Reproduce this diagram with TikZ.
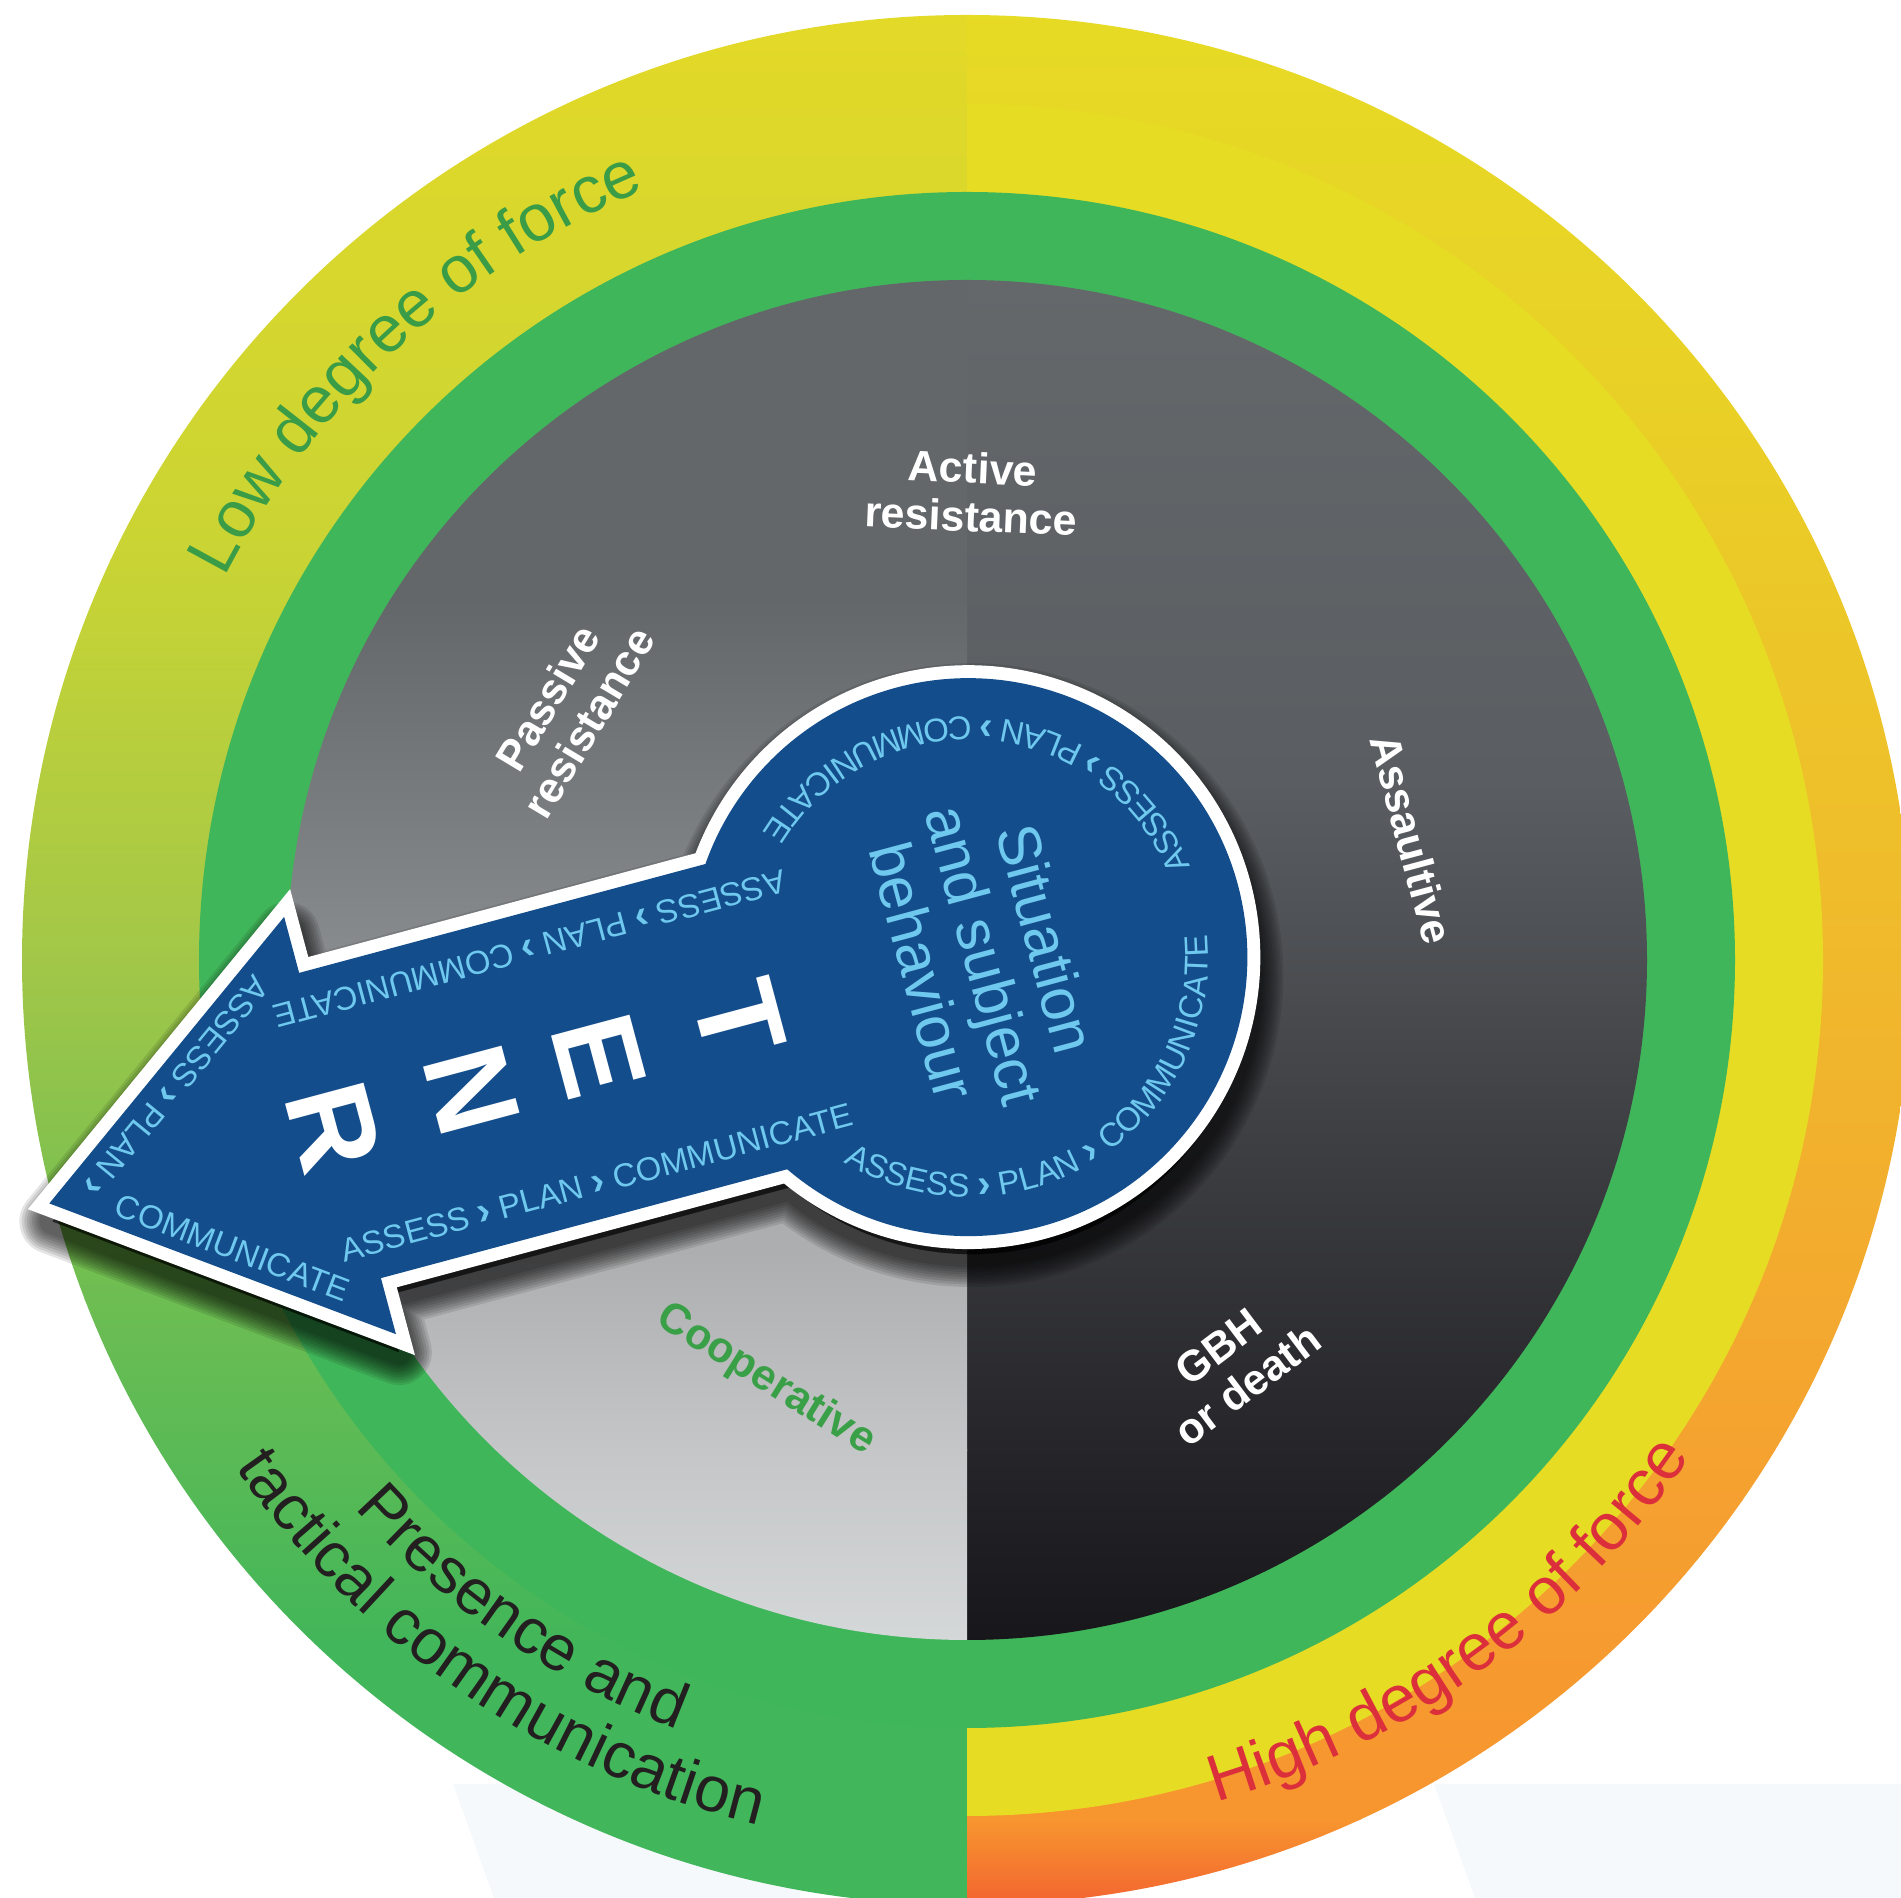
\documentclass[tikz,border=0pt]{standalone}
\usepackage{fontspec}
\setmainfont{Liberation Sans}
\usetikzlibrary{decorations.text}
\definecolor{keyblue}{HTML}{134D8B}
\definecolor{keytext}{HTML}{6FC8EE}
\definecolor{ringgreen}{HTML}{40B65A}
\definecolor{ringyellow}{HTML}{E7DC24}
\definecolor{lowgreen}{HTML}{3A9C46}
\definecolor{highred}{HTML}{DC2F3C}
\definecolor{coopgreen}{HTML}{3AA048}
\definecolor{darktext}{HTML}{231F20}
\definecolor{paleblue}{HTML}{F5F9FC}
\definecolor{L1}{HTML}{E4D927}
\definecolor{L2}{HTML}{C9D434}
\definecolor{L3}{HTML}{A2C748}
\definecolor{L4}{HTML}{6DBD52}
\definecolor{L5}{HTML}{41B65A}
\definecolor{R1}{HTML}{E6DB25}
\definecolor{R2}{HTML}{E9D026}
\definecolor{R3}{HTML}{F0B92C}
\definecolor{R4}{HTML}{F5A030}
\definecolor{R5}{HTML}{F7952F}
\definecolor{R6}{HTML}{F36830}
\definecolor{G1}{HTML}{64686B}
\definecolor{G2}{HTML}{5A5E62}
\definecolor{G3}{HTML}{3C3D41}
\definecolor{G4}{HTML}{17161A}
\definecolor{P1}{HTML}{63676A}
\definecolor{P2}{HTML}{898C8F}
\definecolor{Q1}{HTML}{A6A7A9}
\definecolor{Q2}{HTML}{ADAEB0}
\definecolor{Q3}{HTML}{C4C6C7}
\definecolor{Q4}{HTML}{D5D8D9}
\newcommand\keyfont{\fontsize{33bp}{33bp}\selectfont\mdseries}
\newcommand\chevfont{\fontsize{40bp}{33bp}\selectfont\bfseries}
\newcommand\chev{{\chevfont ›}}
\newcommand\bandfont{\fontsize{66bp}{66bp}\selectfont}
\newcommand\presfont{\fontsize{64bp}{64bp}\selectfont}
\tikzset{
  keyholepath/.style={insert path={(-264,0) -- (37,-216) -- (37,-158) -- (457.6,-158)
      arc[start angle=214.5, end angle=505.5, radius=279] -- (37,158) -- (37,216) -- cycle}},
  zonelabel/.style={text=white, align=center, inner sep=0pt,
      font=\fontsize{43bp}{48bp}\selectfont\bfseries},
  keylabel/.style={text=keytext, inner sep=0pt, font=\keyfont},
  tenr/.style={text=white, inner sep=0pt, rotate=-75,
      font=\fontsize{118bp}{118bp}\selectfont\bfseries},
}
\begin{document}
\begin{tikzpicture}[x=1bp,y=1bp]
\useasboundingbox (0,0) rectangle (1901,1898);
\clip (0,0) rectangle (1901,1898);
% pale background shapes
\fill[paleblue] (453,114) -- (800,114) -- (800,0) -- (494,0) -- cycle;
\fill[paleblue] (1434,114) -- (1901,114) -- (1901,0) -- (1475,0) -- cycle;
\coordinate (C) at (967,938);
% left outer band
\begin{scope}
\clip (967,938) -- (967,1883) arc[start angle=90,end angle=270,radius=945] -- cycle;
\shade[top color=L1,bottom color=L2] (0,1337) rectangle (968,1898);
\shade[top color=L2,bottom color=L3] (0,937) rectangle (968,1338);
\shade[top color=L3,bottom color=L4] (0,597) rectangle (968,938);
\shade[top color=L4,bottom color=L5] (0,247) rectangle (968,598);
\fill[L5] (0,0) rectangle (968,248);
\end{scope}
% right outer band
\begin{scope}
\clip (967,938) -- (967,-7) arc[start angle=-90,end angle=90,radius=945] -- cycle;
\shade[top color=R1,bottom color=R2] (966,1497) rectangle (1901,1898);
\shade[top color=R2,bottom color=R3] (966,937) rectangle (1901,1498);
\shade[top color=R3,bottom color=R4] (966,397) rectangle (1901,938);
\shade[top color=R4,bottom color=R5] (966,77) rectangle (1901,398);
\shade[top color=R5,bottom color=R6] (966,0) rectangle (1901,78);
\end{scope}
\fill[ringyellow] (967,82) arc[start angle=-90,end angle=90,radius=856] -- cycle;
\fill[ringgreen] (C) circle[radius=768];
% gray disc: right half
\begin{scope}
\clip (967,258) arc[start angle=-90,end angle=90,radius=680] -- cycle;
\shade[top color=G1,bottom color=G2] (966,1117) rectangle (1901,1620);
\shade[top color=G2,bottom color=G3] (966,737) rectangle (1901,1118);
\shade[top color=G3,bottom color=G4] (966,256) rectangle (1901,738);
\end{scope}
% upper-left quarter
\begin{scope}
\clip (967,938) -- (967,1618) arc[start angle=90,end angle=180,radius=680] -- cycle;
\fill[P1] (0,1297) rectangle (968,1620);
\shade[top color=P1,bottom color=P2] (0,937) rectangle (968,1298);
\end{scope}
% lower-left quarter
\begin{scope}
\clip (967,938) -- (287,938) arc[start angle=180,end angle=270,radius=680] -- cycle;
\shade[top color=Q1,bottom color=Q2] (0,647) rectangle (968,939);
\shade[top color=Q2,bottom color=Q3] (0,447) rectangle (968,648);
\shade[top color=Q3,bottom color=Q4] (0,256) rectangle (968,448);
\end{scope}
% zone labels
\node[zonelabel, rotate=-2.5] (lActive) at (972,1406) {Active\\resistance};
\node[zonelabel, rotate=59] (lPassive) at (568,1188) {Passive\\resistance};
\node[zonelabel, rotate=-75] (lAssault) at (1412,1059) {Assaultive};
\node[zonelabel, rotate=37] (lGBH) at (1233,532) {GBH\\or death};
\node[zonelabel, text=coopgreen, rotate=-32] (lCoop) at (766,518) {Cooperative};
% keyhole shadow
\begin{scope}[shift={(307.3,744.9)}, rotate=15]
\foreach \w in {26,31,...,66} {
  \path[fill=black, draw=black, line width=\w, line join=round, opacity=0.1, keyholepath];
}
\end{scope}
% keyhole
\begin{scope}[shift={(304.3,762.9)}, rotate=15]
\draw[white, line width=26, line join=miter, keyholepath];
\fill[keyblue, keyholepath];
\path[decorate, decoration={text along path,
   text={|\keyfont|ASSESS |\chevfont|›|\keyfont| PLAN |\chevfont|›|\keyfont| COMMUNICATE},
   text align=center, text color=keytext}]
   (687.5,0) ++(212:240) arc[start angle=212, end angle=362, radius=240];
\path[decorate, decoration={text along path,
   text={|\keyfont|ASSESS |\chevfont|›|\keyfont| PLAN |\chevfont|›|\keyfont| COMMUNICATE},
   text align=center, text color=keytext}]
   (687.5,0) ++(-4.5:240) arc[start angle=-4.5, end angle=145.5, radius=240];
\node[keylabel, anchor=base, rotate=195] (tUp) at (266,133) {ASSESS \chev{} PLAN \chev{} COMMUNICATE};
\node[keylabel, anchor=base, rotate=15] (tLow) at (270,-133) {ASSESS \chev{} PLAN \chev{} COMMUNICATE};
\node[keylabel, anchor=base, rotate=230.7] (tBarbUp) at (-118.4,89.5) {ASSESS \chev{} PLAN \chev};
\node[keylabel, anchor=base, rotate=-20.7] (tBarbLow) at (-105.2,-99.5) {COMMUNICATE};
\node[tenr] (lT) at (450,0) {T};
\node[tenr] (lE) at (305,0) {E};
\node[tenr] (lN) at (173,0) {N};
\node[tenr] (lR) at (30,0) {R};
\node[text=keytext, align=center, inner sep=0pt, rotate=-75,
      font=\fontsize{60bp}{64bp}\selectfont] (lSit) at (704,-2) {Situation\\and subject\\behaviour};
\end{scope}
% band texts
\path[decorate, decoration={text along path, text={|\bandfont|Low degree of force},
   text align=center, text color=lowgreen}]
   (C) ++(167.7:835) arc[start angle=167.7, end angle=97.7, radius=835];
\path[decorate, decoration={text along path, text={|\bandfont|High degree of force},
   text align=center, text color=highred}]
   (C) ++(-89:878) arc[start angle=-89, end angle=-19, radius=878];
\path[decorate, decoration={text along path, text={|\presfont|Presence and},
   text align=center, text color=darktext}]
   (C) ++(200.6:822) arc[start angle=200.6, end angle=270.6, radius=822];
\path[decorate, decoration={text along path, text={|\presfont|tactical communication},
   text align=center, text color=darktext}]
   (C) ++(200.6:890) arc[start angle=200.6, end angle=270.6, radius=890];
\end{tikzpicture}
\end{document}
